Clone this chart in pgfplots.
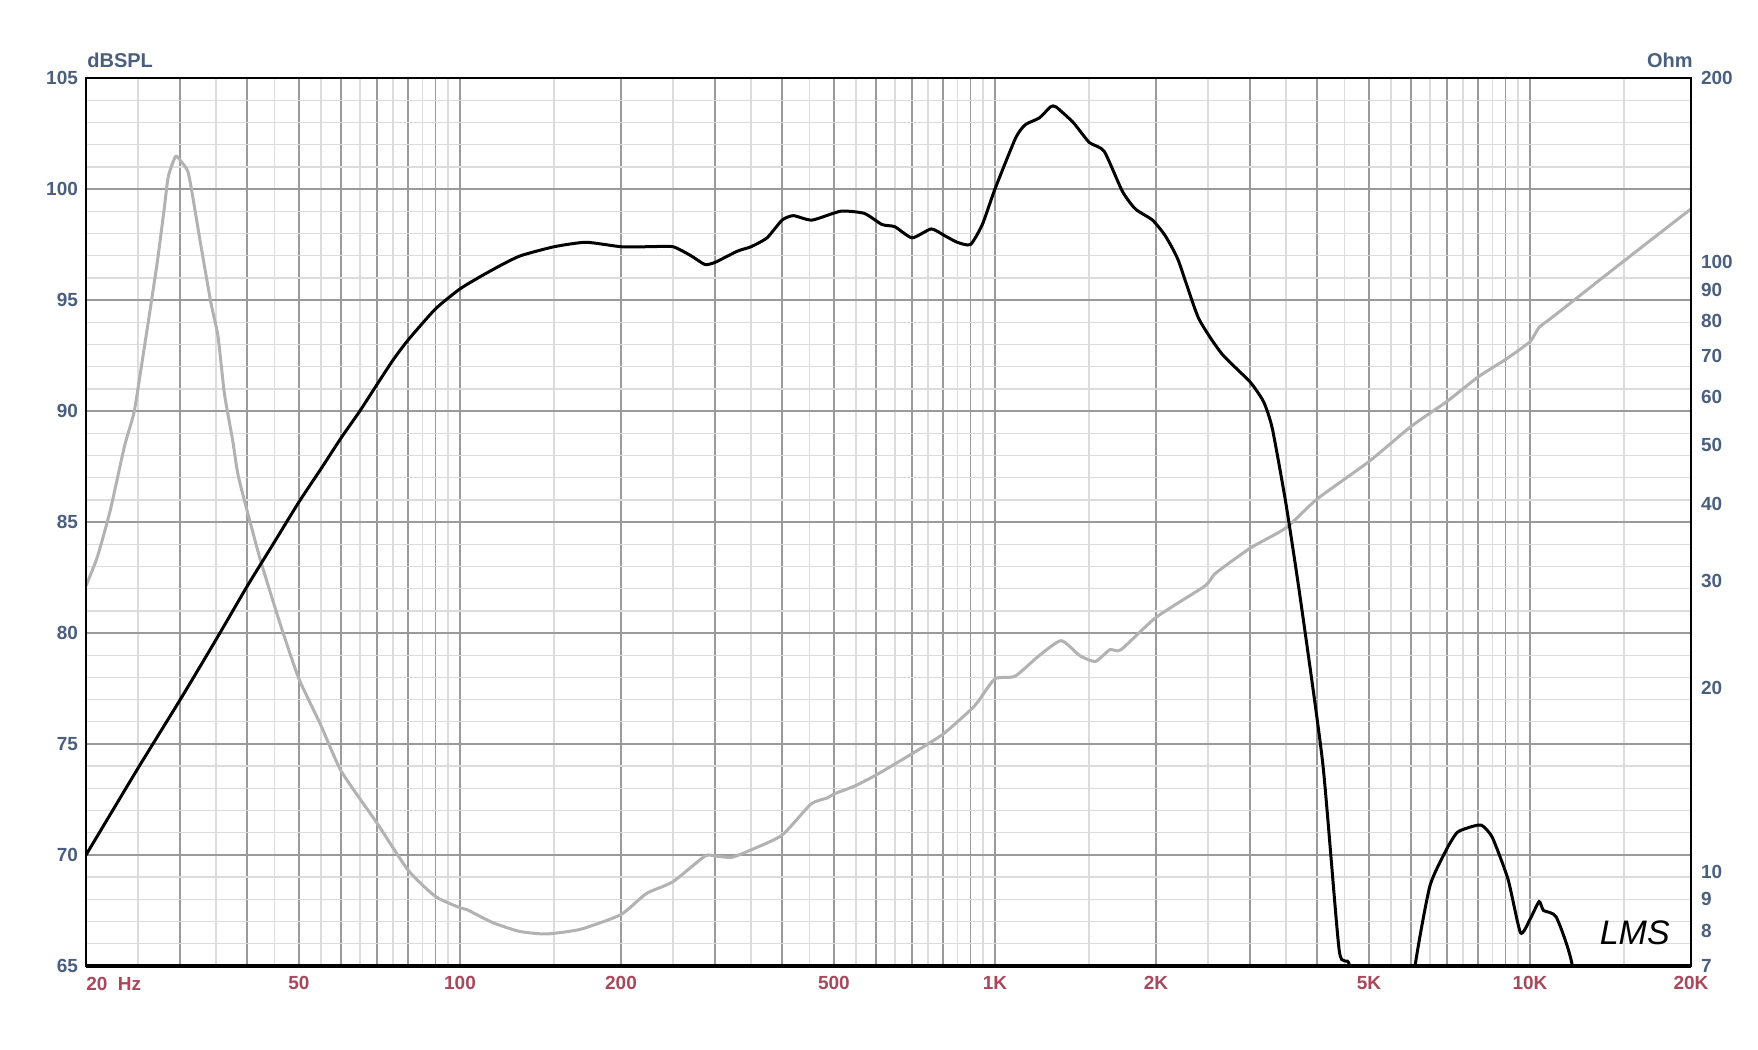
\documentclass[border=0pt]{standalone}
\usepackage{fontspec}
\setmainfont{Liberation Sans}
\usepackage{pgfplots}
\pgfplotsset{compat=1.18}
\definecolor{ylab}{HTML}{4A5F7E}
\definecolor{xlab}{HTML}{A8485A}
\definecolor{gridmaj}{HTML}{9A9A9A}
\definecolor{gridmin}{HTML}{DCDCDC}
\definecolor{impcol}{HTML}{B2B2B2}
\newcommand{\lblfont}{\fontsize{9.5}{11}\selectfont\bfseries}

\pgfplotstableread{
f spl
20 70.0
25 73.9
30 77.0
35 79.7
40 82.1
45 84.1
50 85.9
55 87.4
60 88.8
65 90.0
70 91.2
75 92.3
80 93.2
90 94.6
100 95.5
110 96.1
120 96.6
130 97.0
150 97.4
172 97.6
200 97.4
225 97.4
250 97.4
270 97.0
287 96.6
300 96.7
330 97.2
350 97.4
375 97.8
400 98.6
420 98.8
455 98.6
515 99.0
570 98.9
615 98.4
650 98.3
700 97.8
760 98.2
805 97.9
850 97.6
900 97.5
947 98.4
1000 100.0
1093 102.3
1140 102.9
1210 103.2
1270 103.7
1300 103.7
1400 103.0
1500 102.1
1600 101.7
1730 99.9
1830 99.1
1970 98.6
2080 97.9
2200 96.8
2400 94.2
2650 92.6
3000 91.3
3180 90.4
3300 89.2
3500 85.8
3730 81.4
4100 74.1
4400 65.7
4600 65.0
4800 60
5500 55
6000 62
6100 65
6500 68.6
7000 70.3
7300 71.0
7600 71.2
8100 71.35
8500 70.8
9100 68.9
9600 66.5
10000 67.1
10400 67.9
10600 67.5
11200 67.2
12000 65
12500 60
}\spltable

\pgfplotstableread{
f ohm
20 29.4
21 32.8
22.2 39.1
23.6 49.8
24.6 56.7
25.5 69.1
26.3 82.4
27.2 100.3
28.0 122
28.5 137.9
29.4 148.7
30.1 146
31.0 140.6
31.6 129
32.6 109.5
34.2 86
35.3 75.4
36.3 60.6
37.6 50.9
38.5 44.6
40.4 37.8
42.5 32.1
46.3 25.2
50 20.7
54.9 17.4
60 14.6
70 12.0
80 10.05
90 9.1
100 8.72
103 8.66
115 8.25
129 7.98
145 7.9
168 8.04
200 8.5
223 9.2
250 9.62
287 10.6
300 10.6
322 10.55
350 10.85
400 11.47
453 12.9
486 13.2
500 13.4
546 13.8
600 14.4
700 15.6
800 16.8
900 18.4
930 19.0
1000 20.7
1090 20.9
1210 22.6
1330 23.9
1440 22.6
1540 22.1
1640 23.1
1720 23.1
2000 26.1
2470 29.4
2580 30.8
3000 33.9
3500 36.6
4000 40.8
5000 47.0
6000 53.7
7000 59
8000 64.7
9000 69.1
10000 73.9
10400 78
11100 81.5
15000 100.3
20000 122
}\imptable

\begin{document}
\begin{tikzpicture}
\useasboundingbox (-43pt,-42pt) rectangle (836pt,483pt);
% grid and left/bottom labels
\begin{axis}[
  at={(0,0)}, anchor=south west, scale only axis,
  width=802.5pt, height=444pt,
  xmode=log, xmin=20, xmax=20000, ymin=65, ymax=105,
  xtick={20,30,40,50,60,70,80,90,100,200,300,400,500,600,700,800,900,1000,2000,3000,4000,5000,6000,7000,8000,9000,10000,20000},
  xticklabels={{},{},{},50,{},{},{},{},100,200,{},{},500,{},{},{},{},1K,2K,{},{},5K,{},{},{},{},10K,20K},
  minor xtick={25,35,45,55,65,75,85,95,150,250,350,450,550,650,750,850,950,1500,2500,3500,4500,5500,6500,7500,8500,9500,15000},
  ytick={65,70,75,80,85,90,95,100,105},
  yticklabels={65,70,75,80,85,90,95,100,105},
  minor ytick={65,66,...,105},
  grid=both,
  major grid style={draw=gridmaj, line width=0.85pt},
  minor grid style={draw=gridmin, line width=0.7pt},
  major tick length=0pt, minor tick length=0pt,
  axis line style={draw=none},
  xticklabel style={color=xlab, font=\lblfont, yshift=-1.5pt},
  yticklabel style={color=ylab, font=\lblfont, xshift=-0.5pt},
  clip=false,
]
\node[anchor=north west, inner sep=0pt, text=xlab, font=\lblfont] at ([yshift=-5.2pt]rel axis cs:0,0) {20\hspace{0.55em}Hz};
\node[anchor=base west, inner sep=0pt, text=ylab, font=\fontsize{10}{11}\selectfont\bfseries] at ([yshift=5.5pt,xshift=0.5pt]rel axis cs:0,1) {dBSPL};
\node[anchor=base east, inner sep=0pt, text=ylab, font=\fontsize{10}{11}\selectfont\bfseries] at ([yshift=5.5pt,xshift=1pt]rel axis cs:1,1) {Ohm};
\end{axis}
% impedance on right axis
\begin{axis}[
  at={(0,0)}, anchor=south west, scale only axis,
  width=802.5pt, height=444pt,
  xmode=log, xmin=20, xmax=20000,
  ymode=log, ymin=7, ymax=200,
  axis x line=none, axis y line*=right,
  axis line style={draw=none},
  ytick={7,8,9,10,20,30,40,50,60,70,80,90,100,200},
  yticklabels={7,8,9,10,20,30,40,50,60,70,80,90,100,200},
  yminorticks=false, xminorticks=false,
  major tick length=0pt,
  yticklabel style={color=ylab, font=\lblfont, xshift=1.5pt},
]
\addplot[impcol, line width=1.5pt, smooth, tension=0.35] table[x=f, y=ohm] {\imptable};
\end{axis}
% SPL and frame
\begin{axis}[
  at={(0,0)}, anchor=south west, scale only axis,
  width=802.5pt, height=444pt,
  xmode=log, xmin=20, xmax=20000, ymin=65, ymax=105,
  ticks=none,
  axis line style={black, line width=1.2pt},
]
\addplot[black, line width=1.5pt, smooth, tension=0.35] table[x=f, y=spl] {\spltable};
\node[font=\fontsize{17}{17}\selectfont\itshape, inner sep=0pt] at (axis cs:15700,66.5) {LMS};
\end{axis}
\draw[black, line width=1.6pt] (0,0) -- (802.5pt,0);
\end{tikzpicture}
\end{document}
